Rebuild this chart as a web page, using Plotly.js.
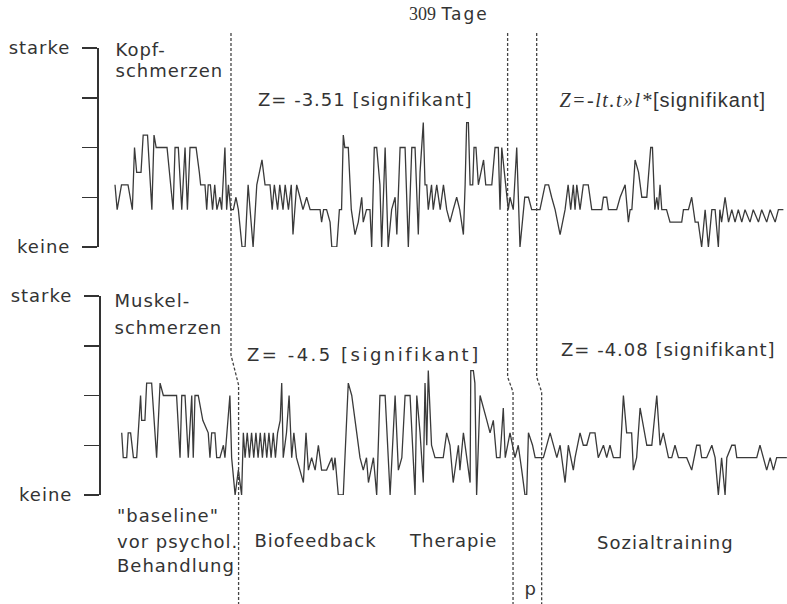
<!DOCTYPE html>
<html><head><meta charset="utf-8">
<script src="https://cdn.plot.ly/plotly-3.0.1.min.js"></script>
<style>
html,body{margin:0;padding:0;background:#fff;}
#chart{width:787px;height:604px;}
.main-svg text{letter-spacing:1px;}
</style></head><body><div id="chart"></div>
<script>
// ---- data (day index, pain level 0..16; ticks every 4 units) ----
const headDays = [0,1,3,6,8,9,10,12,13,15,17,18,19,24,26.8,27.7,29.2,30.8,32.3,33.4,34.6,37.4,38.9,39.5,41.5,42.3,43,44,45,46,47,48.4,49.2,50.7,51.5,52.3,53.4,
 54.6,55.8,56.9,58.6,60,61.4,63.7,65.4,67.8,69.2,71.5,72.5,73.5,75,76,77.5,78.5,80,81.3,82.1,83.8,85.3,86.7,88.4,90,93,94.6,95.3,96.2,97.6,99.2,100,
 102.3,103.5,104.5,105.3,106,107.6,109,110.7,112.2,113.8,114.5,116,117.6,118.4,119.6,120.7,122.2,123,124.6,126,127.6,129.2,130,131.5,133.8,135.3,136.9,138.4,139.9,140.7,
 142.2,143,143.8,144.5,146,146.8,148.4,150,151.5,153,154.5,156,157.6,159,160.7,161.5,162.2,163,163.8,165,165.6,166.5,167.6,170,171,173.8,175.3,176.8,177.6,178.4,180,
 181.4,182.2,183.7,185.3,186.8,189,190.7,192.2,196,198.4,200,201.4,203,205.3,207.6,209,210.2,211.4,212.2,213,214.5,216,218.3,219.9,224.5,225.3,226.8,227.6,231.4,
 233,235.3,236.8,237.6,238.4,239.9,241.5,243,245.3,247.1,247.9,249,249.9,250.6,251.4,252.2,254.4,256,261.4,262.2,264.5,266,267.6,269,270.6,272.2,273.7,275.3,276.8,
 278.3,279,279.8,281.4,283,284.5,286,287.5,289.1,290.6,292.9,294.4,296.8,298.3,300.6,302.2,304.5,306,308.3];
const headValues = [5,3,5,5,3,8,6,6,9,9,3,9,8,8,3,8,8,3,8,3,8,8,6,5,5,3,5,5,3,5,3,4,3,8,3,5,3,
 3,4,3,0,0,5,0,5,7,5,5,3,5,3,5,3,5,3,5,1,5,4,3,4,3,3,3,2,3,3,2,0,
 0,3,3,9,8,8,3,1,2,4,2,3,3,0,8,8,5,0,8,0,3,4,1,8,8,0,8,8,1,6,
 10,5,5,3,5,3,5,3,5,3,2,3,4,3,1,5,10,10,5,5,8,8,5,7,5,5,8,8,3,8,5,
 3,4,3,8,0,4,4,3,3,5,5,4,3,1,3,5,3,5,3,5,3,5,5,3,3,4,4,3,3,
 4,5,2,3,3,7,6,4,4,8,8,3,4,3,5,3,3,2,2,3,3,4,2,2,0,3,0,3,3,
 0,3,2,4,2,3,2,3,2,3,2,3,2,3,2,3,2,3,3];

const muscleDays = [3.1,3.8,5.4,6.1,7.2,8.5,10,11.2,11.8,12.3,13.8,14.6,15.4,16.9,19.2,20.8,22.3,24.6,28.4,30,30.8,32.3,33.8,35.4,36.1,36.9,38.4,40.5,43,43.8,44.6,46.1,
 46.9,48.4,50,50.7,51.5,53,53.8,55.4,56.9,58.4,59.2,60,61,62,63,64,65,66,67,68,69,70,71,72,73,74,75,76.2,76.9,77.6,79.1,80.3,81.5,82.5,83.7,85.3,86.9,88.1,89.2,
 90.7,92.3,93.8,95.3,97.6,100,100.7,101.5,103,105.3,107.6,109.2,111.5,113,114.5,116,116.9,119.2,120.7,122.2,124.6,126.9,129.2,130.7,132.3,133.8,136.1,138.4,139.2,
 140.7,142.2,143,143.8,144.5,146,147.6,149.1,151.4,153,154.5,156,158.4,159.1,160.7,163.8,164.1,165.3,166,166.8,168.4,171.5,173,174.5,176,177.6,179.1,180,182.2,
 184.5,186,187.6,189.1,189.9,190.7,192.6,193.8,197.6,200.7,203.8,205.3,207.6,209.1,211.4,212.2,214.5,216,217.6,219.1,221.4,222.9,225.3,226.8,228.3,229.9,233,
 234.5,236,238.3,239.1,240.6,242.2,245.3,247.6,249.9,251.4,252.9,255.3,256.8,258.3,259.9,263.7,266,268.3,269.8,270.6,272.9,275.3,276.8,278.3,279.8,281.4,282.2,
 284.5,286,286.8,296,297.5,299,300.6,302.2,303.7,305.2,309.9];
const muscleValues = [5,3,3,5,5,3,3,6,8,6,6,9,9,9,3,9,8,8,8,3,8,8,3,8,3,8,8,6,5,3,5,5,
 3,3,4,3,5,8,3,0,2,0,5,3,5,3,5,3,5,3,5,3,5,3,5,3,5,3,5,6,9,3,5,8,3,5,3,2,1,5,2,
 3,2,4,2,2,3,2,3,0,0,9,8,5,3,2,3,1,3,0,8,8,0,8,2,3,8,8,0,8,
 5,1,9,4,10,4,3,3,3,5,4,1,4,2,5,1,10,10,9,0,8,6,5,6,3,3,7,3,5,
 3,4,2,0,0,5,4,3,3,5,3,4,1,4,2,3,5,4,4,5,5,3,4,3,4,3,3,
 8,5,5,2,3,7,4,4,8,4,5,3,3,4,3,3,2,4,4,3,3,4,3,0,3,0,3,
 4,4,3,3,4,3,2,3,2,3,3];

// phase boundaries (days) as drawn above / below the kink
const phaseTopDays = [53.5, 181.1, 194.5];
const phaseBottomDays = [57.0, 183.6, 196.8];

const levelTickVals = [0, 4, 8, 12, 16];
const levelTickText = ['keine', '', '', '', 'starke'];

// ---- layout helpers (page is 787 x 604, zero margins) ----
const W = 787, H = 604;
const DAY_PX = 2.168, DAY0_PX = 115;
const px = x => x / W;
const py = y => 1 - y / H;
const INK = '#333';
const FONT = 'DejaVu Sans, sans-serif';

// global css letter-spacing widens the centred svg text; shift compensates so the left edge stays at x
function ann(text, x, y, size, shift, extra) {
  const plain = text.replace(/<[^>]*>/g, '');
  const s = (shift === undefined || shift === null) ? plain.length / 2 : shift;
  return Object.assign({
    text: text, xref: 'paper', yref: 'paper', x: px(x + s - 3), y: py(y),
    xanchor: 'left', yanchor: 'middle', showarrow: false,
    font: {family: FONT, size: size || 18, color: INK}
  }, extra || {});
}

const traces = [
  {x: headDays, y: headValues, xaxis: 'x', yaxis: 'y', type: 'scatter', mode: 'lines',
   line: {color: '#3a3a3a', width: 1.3}, hoverinfo: 'skip'},
  {x: muscleDays, y: muscleValues, xaxis: 'x', yaxis: 'y2', type: 'scatter', mode: 'lines',
   line: {color: '#3a3a3a', width: 1.3}, hoverinfo: 'skip'}
];

const yCommon = {
  range: [0, 16], tickmode: 'array', tickvals: levelTickVals, ticktext: levelTickText,
  ticks: 'outside', ticklen: 15, tickwidth: 1.5, tickcolor: INK,
  showline: true, linecolor: INK, linewidth: 1.5, showgrid: false, zeroline: false,
  anchor: 'free', ticklabelstandoff: 8,
  tickfont: {family: FONT, size: 18, color: INK}, fixedrange: true
};

const shapes = phaseTopDays.map((d, i) => {
  const b = phaseBottomDays[i];
  const kinkTop = i === 0 ? py(355) : py(377);
  const kinkBot = i === 0 ? py(385) : py(392);
  return {
    type: 'path', xref: 'x', yref: 'paper',
    path: `M ${d},${py(33)} L ${d},${kinkTop} L ${b},${kinkBot} L ${b},0`,
    line: {color: '#444', width: 1.3, dash: '3px,2px'}
  };
});

const layout = {
  width: W, height: H, margin: {l: 0, r: 0, t: 0, b: 0},
  paper_bgcolor: '#fff', plot_bgcolor: 'rgba(0,0,0,0)', showlegend: false,
  font: {family: FONT, color: INK},
  xaxis: {range: [(0 - DAY0_PX) / DAY_PX, (W - DAY0_PX) / DAY_PX], domain: [0, 1],
          visible: false, anchor: 'y', fixedrange: true},
  yaxis: Object.assign({}, yCommon, {domain: [py(247), py(48)], position: px(97)}),
  yaxis2: Object.assign({}, yCommon, {domain: [py(495), py(296)], position: px(99)}),
  shapes: shapes,
  annotations: [
    ann('<span style="font-family:Liberation Serif;letter-spacing:0px;font-size:18px">309</span><span style="letter-spacing:0px"> </span><span style="letter-spacing:2px">Tage</span>', 410, 14, 17, 0),
    ann('Kopf-', 116, 50),
    ann('schmerzen', 116, 70),
    ann('Z= -3.51 [signifikant]', 259, 100),
    ann('<span style="font-family:Liberation Serif;font-style:italic;letter-spacing:1.5px">Z=-lt.t»l*</span><span style="font-family:Liberation Sans">[signifikant]</span>', 560, 100, 20, 6.5),
    ann('Muskel-', 115, 300),
    ann('schmerzen', 115, 327),
    ann('<span style="letter-spacing:2.5px">Z= -4.5 [signifikant]</span>', 248, 354, 18, 0),
    ann('Z= -4.08 [signifikant]', 562, 349),
    ann('"baseline"', 118, 515),
    ann('vor psychol.', 118, 541),
    ann('Behandlung', 118, 565),
    ann('Biofeedback', 255, 540),
    ann('Therapie', 410, 540),
    ann('Sozialtraining', 598, 542),
    ann('p', 525, 588)
  ]
};

Plotly.newPlot('chart', traces, layout, {staticPlot: true, displayModeBar: false});
</script></body></html>
